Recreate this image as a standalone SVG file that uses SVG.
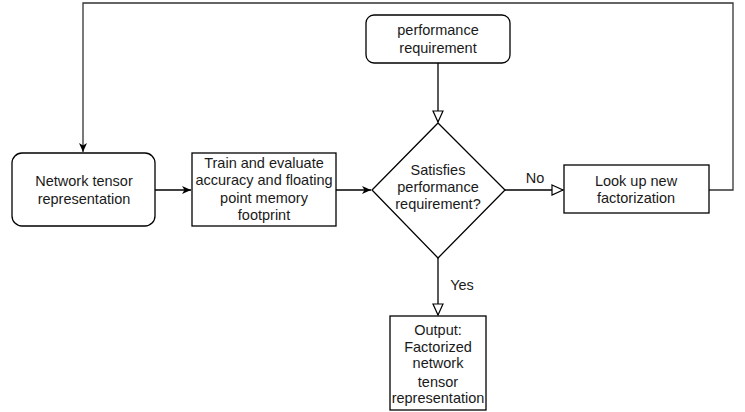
<svg xmlns="http://www.w3.org/2000/svg" width="745" height="412" viewBox="0 0 745 412">
<style>
.b{fill:#fff;stroke:#000;stroke-width:1.3}
.t{font-family:"Liberation Sans",Arial,sans-serif;font-size:14.5px;fill:#1a1a1a;text-anchor:middle}
.c{fill:none;stroke:#000;stroke-width:1.3}
.loop{fill:none;stroke:#333;stroke-width:1.3}
</style>
<defs>
<marker id="fa" markerWidth="10" markerHeight="10" refX="9" refY="5" orient="auto" markerUnits="userSpaceOnUse"><path d="M0,1 L9,5 L0,9 L2.5,5 Z" fill="#000"/></marker>
<marker id="oa" markerWidth="14" markerHeight="12" refX="12" refY="6" orient="auto" markerUnits="userSpaceOnUse"><path d="M1,1 L12,6 L1,11 Z" fill="#fff" stroke="#000" stroke-width="1.2"/></marker>
</defs>
<g id="connectors">
<path class="loop" d="M709,190 H733 V3 H83 V152" marker-end="url(#fa)"/>
<path class="c" d="M155,190 H191" marker-end="url(#fa)"/>
<path class="c" d="M336,190 H371" marker-end="url(#fa)"/>
<path class="c" d="M438,63 V122" marker-end="url(#oa)"/>
<path class="c" d="M505,190 H563" marker-end="url(#oa)"/>
<path class="c" d="M438,258 V315" marker-end="url(#oa)"/>
<text class="t" x="535" y="183">No</text>
<text class="t" x="462" y="290">Yes</text>
</g>
<g id="network">
<rect class="b" x="12" y="153" width="143" height="73" rx="10"/>
<text class="t" x="84" y="186">Network tensor</text>
<text class="t" x="84" y="204">representation</text>
</g>
<g id="train">
<rect class="b" x="192" y="153" width="144" height="73"/>
<text class="t" x="264" y="168">Train and evaluate</text>
<text class="t" x="264" y="185">accuracy and floating</text>
<text class="t" x="264" y="203">point memory</text>
<text class="t" x="264" y="220">footprint</text>
</g>
<g id="perf">
<rect class="b" x="366" y="15" width="144" height="48" rx="8"/>
<text class="t" x="438" y="35">performance</text>
<text class="t" x="438" y="53">requirement</text>
</g>
<g id="decision">
<path class="b" d="M438,123 L505,190 L438,258 L372,190 Z"/>
<text class="t" x="438" y="175">Satisfies</text>
<text class="t" x="438" y="192">performance</text>
<text class="t" x="438" y="209">requirement?</text>
</g>
<g id="lookup">
<rect class="b" x="564" y="165" width="145" height="48"/>
<text class="t" x="636" y="186">Look up new</text>
<text class="t" x="636" y="203">factorization</text>
</g>
<g id="output">
<rect class="b" x="390" y="316" width="96" height="94"/>
<text class="t" x="438" y="335">Output:</text>
<text class="t" x="438" y="352">Factorized</text>
<text class="t" x="438" y="368">network</text>
<text class="t" x="438" y="387">tensor</text>
<text class="t" x="438" y="403">representation</text>
</g>
</svg>
